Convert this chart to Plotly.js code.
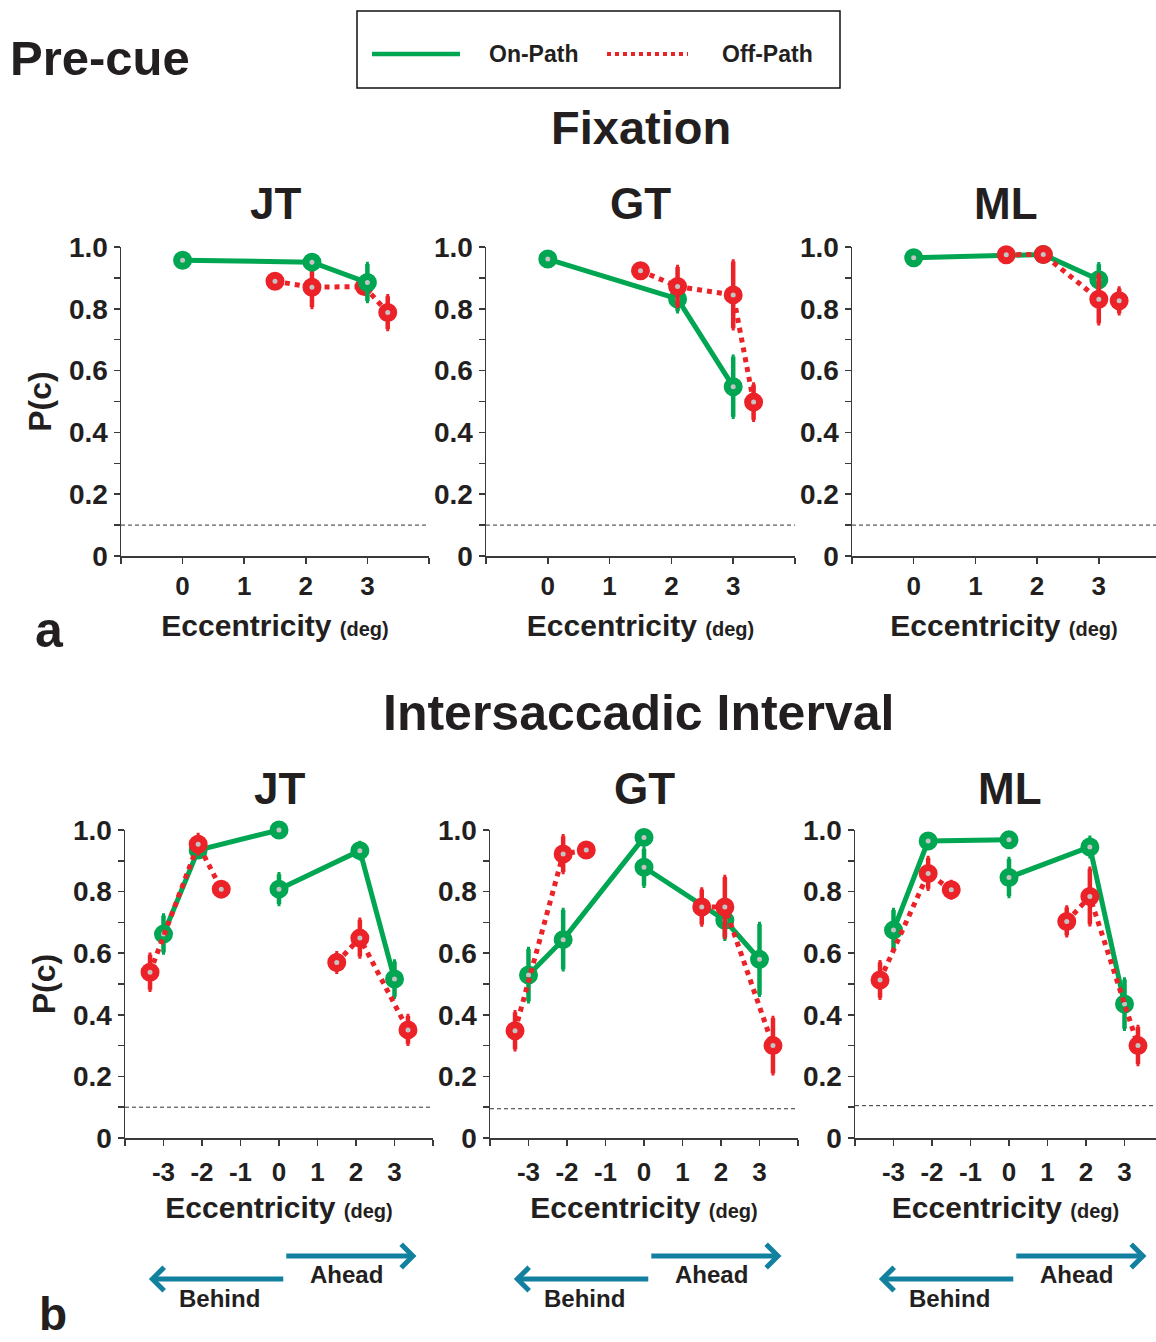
<!DOCTYPE html>
<html>
<head>
<meta charset="utf-8">
<script src="https://cdn.plot.ly/plotly-3.0.1.min.js"></script>
<style>html,body{margin:0;padding:0;background:#fff;}</style>
</head>
<body>
<div id="chart" style="width:1156px;height:1342px;"></div>
<script>
// ---------- DATA ----------
// Fixation (Pre-cue, row a)
var fixJT_onX  = [0, 2.1, 3];
var fixJT_onY  = [0.957, 0.951, 0.885];
var fixJT_onE  = [0.015, 0.015, 0.06];
var fixJT_offX = [1.5, 2.1, 2.95, 3.33];
var fixJT_offY = [0.889, 0.870, 0.872, 0.788];
var fixJT_offE = [0.015, 0.064, 0.02, 0.053];

var fixGT_onX  = [0, 2.1, 3];
var fixGT_onY  = [0.961, 0.832, 0.548];
var fixGT_onE  = [0.012, 0.04, 0.097];
var fixGT_offX = [1.5, 2.1, 3, 3.33];
var fixGT_offY = [0.923, 0.872, 0.845, 0.498];
var fixGT_offE = [0.015, 0.063, 0.108, 0.057];

var fixML_onX  = [0, 2.1, 3];
var fixML_onY  = [0.965, 0.976, 0.894];
var fixML_onE  = [0.01, 0.012, 0.05];
var fixML_offX = [1.5, 2.1, 3, 3.33];
var fixML_offY = [0.975, 0.976, 0.831, 0.826];
var fixML_offE = [0.01, 0.01, 0.078, 0.04];

// Intersaccadic Interval (row b): behind (negative) and ahead (positive) segments
var isiJT_onBehindX  = [-3, -2.1, 0];
var isiJT_onBehindY  = [0.662, 0.935, 1.0];
var isiJT_onBehindE  = [0.06, 0.02, 0.008];
var isiJT_onAheadX   = [0, 2.1, 3];
var isiJT_onAheadY   = [0.808, 0.933, 0.516];
var isiJT_onAheadE   = [0.048, 0.025, 0.057];
var isiJT_offBehindX = [-3.35, -2.1, -1.5];
var isiJT_offBehindY = [0.538, 0.954, 0.808];
var isiJT_offBehindE = [0.057, 0.03, 0.02];
var isiJT_offAheadX  = [1.5, 2.1, 3.35];
var isiJT_offAheadY  = [0.570, 0.649, 0.351];
var isiJT_offAheadE  = [0.03, 0.06, 0.045];

var isiGT_onBehindX  = [-3, -2.1, 0];
var isiGT_onBehindY  = [0.529, 0.644, 0.976];
var isiGT_onBehindE  = [0.085, 0.096, 0.01];
var isiGT_onAheadX   = [0, 2.1, 3];
var isiGT_onAheadY   = [0.879, 0.707, 0.58];
var isiGT_onAheadE   = [0.06, 0.06, 0.115];
var isiGT_offBehindX = [-3.35, -2.1, -1.5];
var isiGT_offBehindY = [0.348, 0.922, 0.935];
var isiGT_offBehindE = [0.06, 0.058, 0.02];
var isiGT_offAheadX  = [1.5, 2.1, 3.35];
var isiGT_offAheadY  = [0.75, 0.75, 0.30];
var isiGT_offAheadE  = [0.057, 0.097, 0.09];

var isiML_onBehindX  = [-3, -2.1, 0];
var isiML_onBehindY  = [0.675, 0.964, 0.968];
var isiML_onBehindE  = [0.065, 0.02, 0.01];
var isiML_onAheadX   = [0, 2.1, 3];
var isiML_onAheadY   = [0.846, 0.945, 0.435];
var isiML_onAheadE   = [0.06, 0.03, 0.08];
var isiML_offBehindX = [-3.35, -2.1, -1.5];
var isiML_offBehindY = [0.513, 0.859, 0.806];
var isiML_offBehindE = [0.058, 0.05, 0.025];
var isiML_offAheadX  = [1.5, 2.1, 3.35];
var isiML_offAheadY  = [0.703, 0.784, 0.30];
var isiML_offAheadE  = [0.045, 0.09, 0.06];

// chance level per panel (JT, GT, ML fixation; JT, GT, ML intersaccadic)
var chanceLevels = [0.1, 0.1, 0.1, 0.1, 0.095, 0.105];

// ticks
var yTickVals  = [0, 0.1, 0.2, 0.3, 0.4, 0.5, 0.6, 0.7, 0.8, 0.9, 1.0];
var yTickText  = ['0', '', '0.2', '', '0.4', '', '0.6', '', '0.8', '', '1.0'];
var fixTickVals = [-1, 0, 1, 2, 3, 4];
var fixTickText = ['', '0', '1', '2', '3', ''];
var isiTickVals = [-4, -3, -2, -1, 0, 1, 2, 3, 4];
var isiTickText = ['', '-3', '-2', '-1', '0', '1', '2', '3', ''];

var subjects = ['JT', 'GT', 'ML'];
var seriesNames = ['On-Path', 'Off-Path'];
var directionLabels = ['Behind', 'Ahead'];

// ---------- STYLE ----------
var GREEN = '#00a651', RED = '#ec2229', TEAL = '#12809f', INK = '#231f20', AXC = '#3a3a3a';
var FONT = 'Liberation Sans, Arial, Helvetica, sans-serif';
var W = 1156, H = 1342;
function px(x) { return x / W; }
function py(y) { return 1 - y / H; }

var traces = [];
function addSeries(xs, ys, es, color, dash, xa, ya, name) {
  traces.push({
    type: 'scatter', mode: 'lines+markers', name: name,
    x: xs, y: ys, xaxis: xa, yaxis: ya,
    line: { color: color, width: 5, dash: dash },
    marker: { symbol: 'circle', size: 12, color: '#c4c4c4', line: { color: color, width: 7 } },
    error_y: { type: 'data', array: es, visible: true, color: color, thickness: 4.5, width: 1.5 },
    cliponaxis: false, hoverinfo: 'skip', showlegend: false
  });
}

// Fixation panels (x, x2, x3)
var fixSets = [
  [fixJT_onX, fixJT_onY, fixJT_onE, fixJT_offX, fixJT_offY, fixJT_offE, true],
  [fixGT_onX, fixGT_onY, fixGT_onE, fixGT_offX, fixGT_offY, fixGT_offE, false],
  [fixML_onX, fixML_onY, fixML_onE, fixML_offX, fixML_offY, fixML_offE, false]
];
fixSets.forEach(function (s, i) {
  var xa = 'x' + (i === 0 ? '' : (i + 1)), ya = 'y' + (i === 0 ? '' : (i + 1));
  if (s[6]) {
    addSeries(s[3], s[4], s[5], RED, 'dot', xa, ya, seriesNames[1]);
    addSeries(s[0], s[1], s[2], GREEN, 'solid', xa, ya, seriesNames[0]);
  } else {
    addSeries(s[0], s[1], s[2], GREEN, 'solid', xa, ya, seriesNames[0]);
    addSeries(s[3], s[4], s[5], RED, 'dot', xa, ya, seriesNames[1]);
  }
});

// Intersaccadic panels (x4, x5, x6)
var isiSets = [
  [isiJT_onBehindX, isiJT_onBehindY, isiJT_onBehindE, isiJT_onAheadX, isiJT_onAheadY, isiJT_onAheadE,
   isiJT_offBehindX, isiJT_offBehindY, isiJT_offBehindE, isiJT_offAheadX, isiJT_offAheadY, isiJT_offAheadE],
  [isiGT_onBehindX, isiGT_onBehindY, isiGT_onBehindE, isiGT_onAheadX, isiGT_onAheadY, isiGT_onAheadE,
   isiGT_offBehindX, isiGT_offBehindY, isiGT_offBehindE, isiGT_offAheadX, isiGT_offAheadY, isiGT_offAheadE],
  [isiML_onBehindX, isiML_onBehindY, isiML_onBehindE, isiML_onAheadX, isiML_onAheadY, isiML_onAheadE,
   isiML_offBehindX, isiML_offBehindY, isiML_offBehindE, isiML_offAheadX, isiML_offAheadY, isiML_offAheadE]
];
isiSets.forEach(function (s, i) {
  var xa = 'x' + (i + 4), ya = 'y' + (i + 4);
  addSeries(s[0], s[1], s[2], GREEN, 'solid', xa, ya, seriesNames[0]);
  addSeries(s[3], s[4], s[5], GREEN, 'solid', xa, ya, seriesNames[0]);
  addSeries(s[6], s[7], s[8], RED, 'dot', xa, ya, seriesNames[1]);
  addSeries(s[9], s[10], s[11], RED, 'dot', xa, ya, seriesNames[1]);
});

// ---------- AXES ----------
var topY = [py(556), py(247)], botY = [py(1138), py(830)];
var xDomains = [
  [px(121), px(429)], [px(486), px(795)], [px(852), 1],
  [px(125), px(433)], [px(490), px(798)], [px(855), 1]
];
var xRanges = [[-1, 4], [-1, 4], [-1, 3.927], [-4, 4], [-4, 4], [-4, 3.818]];

var layout = {
  width: W, height: H,
  margin: { l: 0, r: 0, t: 0, b: 0 },
  paper_bgcolor: '#fff', plot_bgcolor: 'rgba(0,0,0,0)',
  showlegend: false,
  font: { family: FONT, color: INK },
  title: { text: 'Pre-cue', x: px(10), xanchor: 'left', xref: 'paper', y: py(58), yanchor: 'middle', yref: 'paper',
           font: { family: FONT, size: 49, weight: 'bold', color: INK } },
  shapes: [], annotations: []
};

for (var i = 0; i < 6; i++) {
  var n = i === 0 ? '' : String(i + 1);
  var isTop = i < 3;
  layout['xaxis' + n] = {
    domain: xDomains[i], range: xRanges[i], anchor: 'y' + n,
    tickmode: 'array', tickvals: isTop ? fixTickVals : isiTickVals, ticktext: isTop ? fixTickText : isiTickText,
    showline: true, linecolor: AXC, linewidth: 1.5,
    ticks: 'outside', ticklen: 6, tickwidth: 1.5, tickcolor: AXC,
    showgrid: false, zeroline: false, fixedrange: true,
    ticklabelstandoff: isTop ? 0 : 4,
    tickfont: { family: FONT, size: 26, weight: 'bold', color: INK },
    title: { text: 'Eccentricity <span style="font-size:20px">(deg)</span>', standoff: isTop ? 15 : 11,
             font: { family: FONT, size: 30, weight: 'bold', color: INK } }
  };
  layout['yaxis' + n] = {
    domain: isTop ? topY : botY, range: [0, 1], anchor: 'x' + n,
    tickmode: 'array', tickvals: yTickVals, ticktext: yTickText,
    showline: true, linecolor: AXC, linewidth: 1.5,
    ticks: 'outside', ticklen: 6, tickwidth: 1.5, tickcolor: AXC,
    showgrid: false, zeroline: false, fixedrange: true,
    tickfont: { family: FONT, size: 28, weight: 'bold', color: INK },
    title: (i === 0 || i === 3) ? { text: 'P(c)', standoff: 8, font: { family: FONT, size: 32, weight: 'bold', color: INK } } : { text: '' }
  };
  // chance line
  layout.shapes.push({
    type: 'line', xref: 'x' + n + ' domain', yref: 'y' + n,
    x0: 0, x1: 1, y0: chanceLevels[i], y1: chanceLevels[i],
    line: { color: '#333', width: 1, dash: '4px,3px' }
  });
}

// subject titles
var subjTitleX = [275, 640, 1006, 279, 644, 1010];
subjTitleX.forEach(function (xv, i) {
  layout.annotations.push({ text: subjects[i % 3], xref: 'paper', yref: 'paper', x: px(xv), y: py(i < 3 ? 204 : 788),
    xanchor: 'center', yanchor: 'middle', showarrow: false, font: { family: FONT, size: 44, weight: 'bold', color: INK } });
});
// section titles
layout.annotations.push({ text: 'Fixation', xref: 'paper', yref: 'paper', x: px(641), y: py(127), xanchor: 'center', yanchor: 'middle',
  showarrow: false, font: { family: FONT, size: 47, weight: 'bold', color: INK } });
layout.annotations.push({ text: 'Intersaccadic Interval', xref: 'paper', yref: 'paper', x: px(638), y: py(713), xanchor: 'center', yanchor: 'middle',
  showarrow: false, font: { family: FONT, size: 50, weight: 'bold', color: INK } });
// panel letters
layout.annotations.push({ text: 'a', xref: 'paper', yref: 'paper', x: px(50), y: py(630), xanchor: 'center', yanchor: 'middle',
  showarrow: false, font: { family: FONT, size: 50, weight: 'bold', color: INK } });
layout.annotations.push({ text: 'b', xref: 'paper', yref: 'paper', x: px(53), y: py(1342), xanchor: 'center', yanchor: 'bottom',
  showarrow: false, font: { family: FONT, size: 46, weight: 'bold', color: INK } });

// legend (drawn)
layout.shapes.push({ type: 'rect', xref: 'paper', yref: 'paper', x0: px(357), x1: px(840), y0: py(88), y1: py(11),
  line: { color: '#111', width: 1.5 }, fillcolor: 'rgba(0,0,0,0)' });
layout.shapes.push({ type: 'line', xref: 'paper', yref: 'paper', x0: px(372), x1: px(460), y0: py(54), y1: py(54),
  line: { color: GREEN, width: 4.5 } });
layout.shapes.push({ type: 'line', xref: 'paper', yref: 'paper', x0: px(607), x1: px(688), y0: py(54), y1: py(54),
  line: { color: RED, width: 4, dash: 'dot' } });
layout.annotations.push({ text: seriesNames[0], xref: 'paper', yref: 'paper', x: px(533), y: py(54), xanchor: 'center', yanchor: 'middle',
  showarrow: false, font: { family: FONT, size: 23, weight: 'bold', color: INK } });
layout.annotations.push({ text: seriesNames[1], xref: 'paper', yref: 'paper', x: px(767), y: py(54), xanchor: 'center', yanchor: 'middle',
  showarrow: false, font: { family: FONT, size: 23, weight: 'bold', color: INK } });

// Behind / Ahead arrows under intersaccadic panels
var arrowStart = 0.15, aheadEnd = 3.57, behindEnd = -3.38, aheadTextX = 1.75, behindTextX = -1.55;
for (var k = 4; k <= 6; k++) {
  var xr = 'x' + k;
  layout.annotations.push({ text: '', xref: xr, axref: xr, yref: 'paper', ayref: 'pixel',
    x: aheadEnd, ax: arrowStart, y: py(1256), ay: 0, showarrow: true,
    arrowhead: 4, arrowsize: 0.9, arrowwidth: 5, arrowcolor: TEAL, standoff: 0, startstandoff: 0 });
  layout.annotations.push({ text: '', xref: xr, axref: xr, yref: 'paper', ayref: 'pixel',
    x: behindEnd, ax: arrowStart, y: py(1279), ay: 0, showarrow: true,
    arrowhead: 4, arrowsize: 0.9, arrowwidth: 5, arrowcolor: TEAL, standoff: 0, startstandoff: 0 });
  layout.annotations.push({ text: directionLabels[1], xref: xr, yref: 'paper', x: aheadTextX, y: py(1274),
    xanchor: 'center', yanchor: 'middle', showarrow: false, font: { family: FONT, size: 24, weight: 'bold', color: INK } });
  layout.annotations.push({ text: directionLabels[0], xref: xr, yref: 'paper', x: behindTextX, y: py(1298),
    xanchor: 'center', yanchor: 'middle', showarrow: false, font: { family: FONT, size: 24, weight: 'bold', color: INK } });
}

Plotly.newPlot('chart', traces, layout, { staticPlot: true, displayModeBar: false });
</script>
</body>
</html>
